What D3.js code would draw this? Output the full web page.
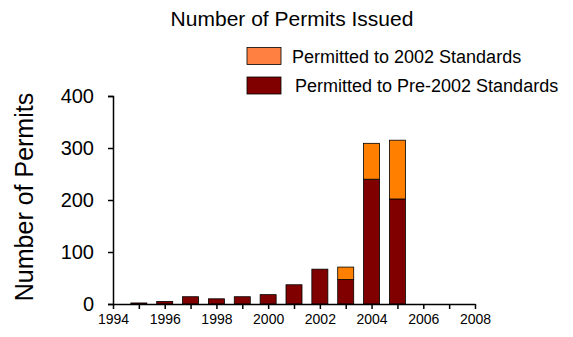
<!DOCTYPE html>
<html>
<head>
<meta charset="utf-8">
<script src="https://cdn.jsdelivr.net/npm/d3@7"></script>
<style>
  body { margin: 0; background: #fff; }
  text { font-family: Arial, "Liberation Sans", sans-serif; }
</style>
</head>
<body>
<div id="chart"></div>
<script>
// permits by year
var years = [1995, 1996, 1997, 1998, 1999, 2000, 2001, 2002, 2003, 2004, 2005]
var pre2002 = [2, 5, 14, 10, 14, 18, 37, 67, 47, 240, 202]
var std2002 = [0, 0, 0, 0, 0, 0, 0, 0, 24, 69, 113]
var yTicks = [0, 100, 200, 300, 400]
var xTicks = [1994, 1996, 1998, 2000, 2002, 2004, 2006, 2008]

var W = 573, H = 337
var margin = {top: 96, left: 113}
var width = 362, height = 208

var svg = d3.select("#chart").append("svg")
  .attr("width", W).attr("height", H)

var g = svg.append("g")
  .attr("transform", "translate(" + margin.left + "," + margin.top + ")")

var x = d3.scaleLinear().domain([1994, 2008]).range([0, width])
var y = d3.scaleLinear().domain([0, 400]).range([height, 0])

var data = years.map(function(d, i) { return {year: d, pre: pre2002[i], std: std2002[i]} })
var stack = d3.stack().keys(["pre", "std"])(data)
var colors = {pre: "#800000", std: "#ff8000"}
var barW = 16

g.selectAll("g.layer")
  .data(stack)
  .enter().append("g")
    .attr("class", "layer")
    .attr("fill", function(d) { return colors[d.key] })
  .selectAll("rect")
  .data(function(d) { return d.filter(function(e) { return e[1] > e[0] }) })
  .enter().append("rect")
    .attr("x", function(d) { return x(d.data.year) - barW / 2 })
    .attr("y", function(d) { return y(d[1]) })
    .attr("width", barW)
    .attr("height", function(d) { return y(d[0]) - y(d[1]) })
    .attr("stroke", "#000")
    .attr("stroke-width", 0.8)

// y axis
var yAxis = g.append("g")
  .call(d3.axisLeft(y).tickValues(yTicks).tickSize(5).tickPadding(14).tickFormat(d3.format("d")))
yAxis.selectAll("text").style("font-size", "20px").attr("fill", "#000")
yAxis.select(".domain").attr("stroke-width", 1.5)
yAxis.selectAll("line").attr("stroke-width", 1.5)

// x axis, minor ticks every year
var xAxis = g.append("g")
  .attr("transform", "translate(0," + height + ")")
  .call(d3.axisBottom(x).tickValues(d3.range(1994, 2009)).tickSize(5).tickPadding(5)
    .tickSizeOuter(0)
    .tickFormat(function(d) { return xTicks.indexOf(d) >= 0 ? d : "" }))
xAxis.selectAll("text").style("font-size", "14px").attr("fill", "#000")
xAxis.select(".domain").attr("stroke-width", 1.5)
xAxis.selectAll("line").attr("stroke-width", 1.5)

// titles
svg.append("text")
  .attr("x", 292).attr("y", 26)
  .attr("text-anchor", "middle")
  .style("font-size", "21px")
  .text("Number of Permits Issued")

svg.append("text")
  .attr("transform", "translate(33,197) rotate(-90)")
  .attr("text-anchor", "middle")
  .style("font-size", "25px")
  .text("Number of Permits")

// legend
var legend = [
  {label: "Permitted to 2002 Standards", color: "#ff8040", y: 47.5, tx: 292},
  {label: "Permitted to Pre-2002 Standards", color: "#800000", y: 77, tx: 295}
]
var lg = svg.selectAll("g.legend").data(legend).enter().append("g")
lg.append("rect")
  .attr("x", 247).attr("y", function(d) { return d.y })
  .attr("width", 34).attr("height", 17)
  .attr("fill", function(d) { return d.color })
  .attr("stroke", "#000").attr("stroke-width", 0.8)
lg.append("text")
  .attr("x", function(d) { return d.tx }).attr("y", function(d) { return d.y + 15 })
  .style("font-size", "18px")
  .text(function(d) { return d.label })
</script>
</body>
</html>
